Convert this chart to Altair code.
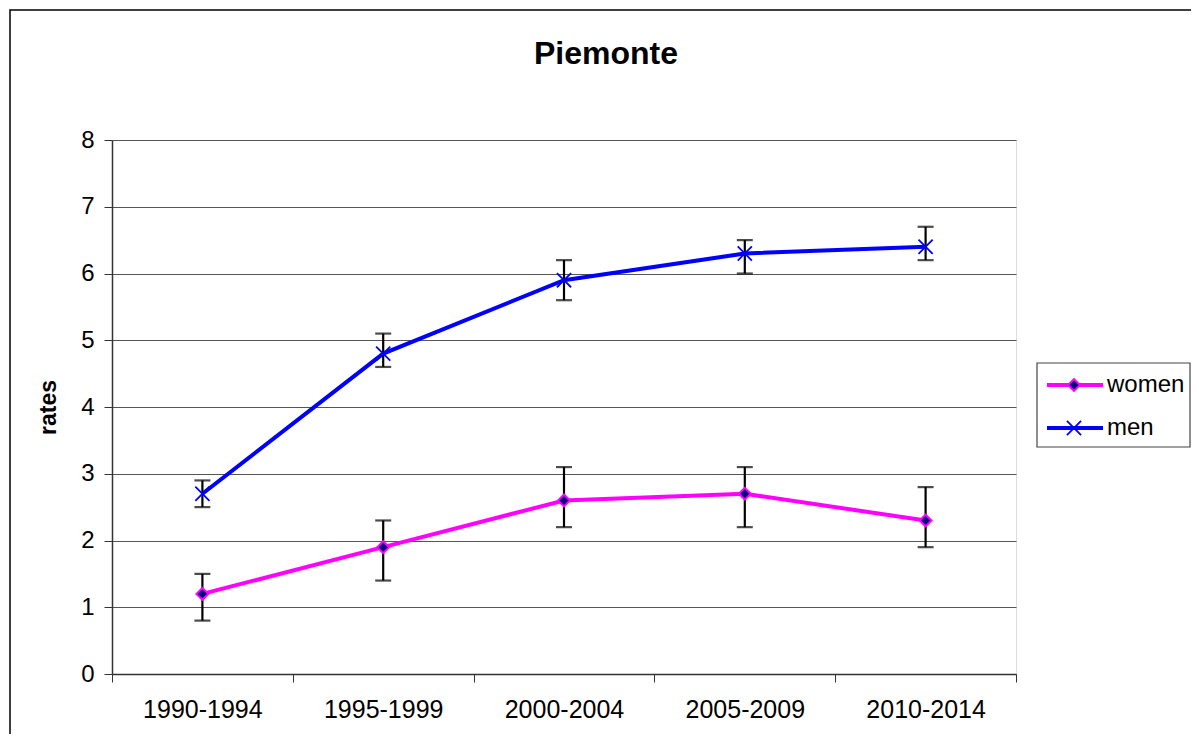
import altair as alt
import pandas as pd

periods = ["1990-1994", "1995-1999", "2000-2004", "2005-2009", "2010-2014"]
women = [1.2, 1.9, 2.6, 2.7, 2.3]
women_lo = [0.8, 1.4, 2.2, 2.2, 1.9]
women_hi = [1.5, 2.3, 3.1, 3.1, 2.8]
men = [2.7, 4.8, 5.9, 6.3, 6.4]
men_lo = [2.5, 4.6, 5.6, 6.0, 6.2]
men_hi = [2.9, 5.1, 6.2, 6.5, 6.7]
series_names = ["women", "men"]
series_colors = ["#FF00FF", "#0000FF"]
y_ticks = [0, 1, 2, 3, 4, 5, 6, 7, 8]
chart_title = "Piemonte"
y_title = "rates"

FONT = "Liberation Sans"

rows = []
for i, p in enumerate(periods):
    rows.append({"period": p, "series": "women", "value": women[i], "lo": women_lo[i], "hi": women_hi[i]})
    rows.append({"period": p, "series": "men", "value": men[i], "lo": men_lo[i], "hi": men_hi[i]})
df = pd.DataFrame(rows)
df_w = df[df.series == "women"]
df_m = df[df.series == "men"]

xscale = alt.Scale(type="band", domain=periods, paddingInner=0, paddingOuter=0)
yscale = alt.Scale(domain=[0, 8], nice=False, zero=True)

x_enc = alt.X(
    "period:N", scale=xscale, bandPosition=0.5, sort=periods,
    axis=alt.Axis(
        title=None, tickBand="extent", grid=False, labelAngle=0,
        labelFont=FONT, labelFontSize=25, labelColor="black", labelPadding=15,
        tickSize=8, tickColor="#333333", domainColor="#333333", domainWidth=1.5,
    ),
)
y_enc = alt.Y(
    "value:Q", scale=yscale,
    axis=alt.Axis(
        title=y_title, values=y_ticks, format="d", grid=True, gridColor="#555555", gridWidth=1.2,
        labelFont=FONT, labelFontSize=24, labelColor="black", labelPadding=10,
        tickSize=8, tickColor="#333333", domainColor="#333333", domainWidth=1.5,
        titleFont=FONT, titleFontSize=23, titleFontWeight="bold", titleColor="black",
        titlePadding=20,
    ),
)

xb = alt.X("period:N", scale=xscale, bandPosition=0.5, sort=periods)

err_rule = alt.Chart(df).mark_rule(color="black", strokeWidth=2.2).encode(
    x=xb, y=alt.Y("lo:Q", scale=yscale), y2="hi:Q"
)
cap_lo = alt.Chart(df).mark_tick(color="black", thickness=2.2, size=16, orient="horizontal").encode(
    x=xb, y=alt.Y("lo:Q", scale=yscale)
)
cap_hi = alt.Chart(df).mark_tick(color="black", thickness=2.2, size=16, orient="horizontal").encode(
    x=xb, y=alt.Y("hi:Q", scale=yscale)
)

line_w = alt.Chart(df_w).mark_line(color=series_colors[0], strokeWidth=4).encode(x=x_enc, y=y_enc)
line_m = alt.Chart(df_m).mark_line(color=series_colors[1], strokeWidth=4).encode(x=xb, y=alt.Y("value:Q", scale=yscale))

DIAMOND_SIZE = 140
X_SIZE = 200
XPATH = "M-1,-1L1,1M-1,1L1,-1"

pt_w = alt.Chart(df_w).mark_point(
    shape="diamond", filled=True, fill="#000080", stroke=series_colors[0], strokeWidth=2, size=DIAMOND_SIZE, opacity=1
).encode(x=xb, y=alt.Y("value:Q", scale=yscale))
pt_m = alt.Chart(df_m).mark_point(
    shape=XPATH, filled=False, stroke=series_colors[1], strokeWidth=1.8, size=X_SIZE, opacity=1
).encode(x=xb, y=alt.Y("value:Q", scale=yscale))

# outer chart border
one = alt.Data(values=[{"a": 1}])
border = alt.Chart(one).mark_rect(fill=None, stroke="black", strokeWidth=1.5).encode(
    x=alt.value(-102), x2=alt.value(1100), y=alt.value(-130), y2=alt.value(640)
)

title_mark = alt.Chart(alt.Data(values=[{"t": chart_title}])).mark_text(
    font=FONT, fontSize=32, fontWeight="bold", color="black", align="center", baseline="middle"
).encode(x=alt.value(494), y=alt.value(-86), text="t:N")

# legend (manual)
leg_box = alt.Chart(one).mark_rect(fill="white", stroke="#444444", strokeWidth=1.2).encode(
    x=alt.value(925), x2=alt.value(1078), y=alt.value(223), y2=alt.value(307)
)
leg_layers = [leg_box]
leg_y = [245, 288]
for name, col, ly in zip(series_names, series_colors, leg_y):
    d = alt.Data(values=[{"name": name}])
    leg_layers.append(alt.Chart(d).mark_rule(color=col, strokeWidth=4).encode(
        x=alt.value(935), x2=alt.value(991), y=alt.value(ly)))
    leg_layers.append(alt.Chart(d).mark_text(
        font=FONT, fontSize=24, color="black", align="left", baseline="middle"
    ).encode(x=alt.value(995), y=alt.value(ly), text="name:N"))
leg_layers.append(alt.Chart(one).mark_point(
    shape="diamond", filled=True, fill="#000080", stroke=series_colors[0], strokeWidth=2, size=DIAMOND_SIZE, opacity=1
).encode(x=alt.value(962), y=alt.value(leg_y[0])))
leg_layers.append(alt.Chart(one).mark_point(
    shape=XPATH, filled=False, stroke=series_colors[1], strokeWidth=1.8, size=X_SIZE, opacity=1
).encode(x=alt.value(962), y=alt.value(leg_y[1])))

chart = alt.layer(
    border, line_w, line_m, err_rule, cap_lo, cap_hi, pt_w, pt_m, title_mark, *leg_layers
).properties(
    width=904, height=534,
    autosize=alt.AutoSizeParams(type="none"),
    padding={"left": 104, "top": 132, "right": 175, "bottom": 60},
).configure_view(
    stroke="#a0a0a0", strokeWidth=2
).configure(background="white")

chart.save("out.html", embed_options={"renderer": "svg", "actions": False})
